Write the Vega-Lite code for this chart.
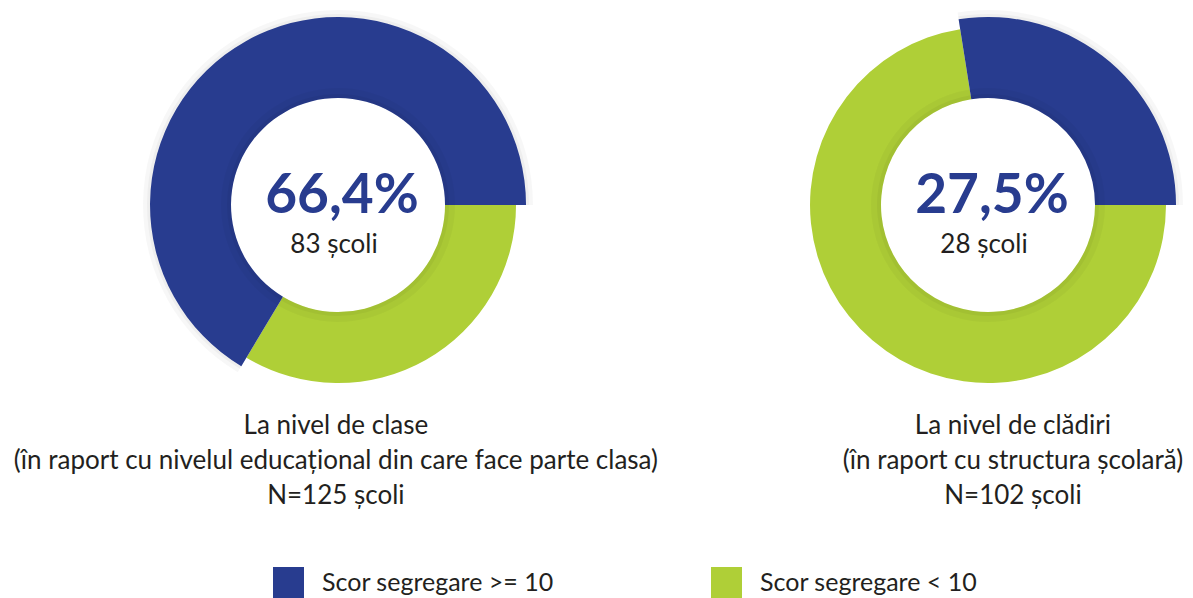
{
  "$schema": "https://vega.github.io/schema/vega-lite/v6.json",
  "width": 1193,
  "height": 410,
  "padding": 0,
  "background": "white",
  "datasets": {
    "shares": [
      {"panel": "clase", "cat": "Scor segregare >= 10", "pct": 66.4},
      {"panel": "clase", "cat": "Scor segregare < 10", "pct": 33.6},
      {"panel": "cladiri", "cat": "Scor segregare >= 10", "pct": 27.5},
      {"panel": "cladiri", "cat": "Scor segregare < 10", "pct": 72.5}
    ],
    "labels": [
      {"panel": "clase", "pct_label": "66,4%", "schools": "83 școli", "caption": ["La nivel de clase", "(în raport cu nivelul educațional din care face parte clasa)", "N=125 școli"]},
      {"panel": "cladiri", "pct_label": "27,5%", "schools": "28 școli", "caption": ["La nivel de clădiri", "(în raport cu structura școlară)", "N=102 școli"]}
    ]
  },
  "layer": [
    {
      "data": {"name": "shares"},
      "transform": [
        {"stack": "pct", "groupby": ["panel"], "sort": [{"field": "cat", "order": "ascending"}], "as": ["t0", "t1"]},
        {"filter": "datum.cat === 'Scor segregare >= 10'"}
      ],
      "mark": {"type": "arc", "innerRadius": 180, "outerRadius": 195, "fill": "#000000", "fillOpacity": 0.03},
      "encoding": {
        "x": {"field": "panel", "type": "nominal", "scale": {"type": "point", "domain": ["clase", "cladiri"], "padding": 0.4177, "align": 0.6225}, "axis": null},
        "theta": {"field": "t0", "type": "quantitative", "stack": null, "scale": {"domain": [0, 100], "range": [1.5707963, 7.8539816]}},
        "theta2": {"field": "t1"}
      }
    },
    {
      "data": {"name": "shares"},
      "transform": [
        {"stack": "pct", "groupby": ["panel"], "sort": [{"field": "cat", "order": "ascending"}], "as": ["t0", "t1"]},
        {"filter": "datum.cat === 'Scor segregare >= 10'"}
      ],
      "mark": {"type": "arc", "innerRadius": 180, "outerRadius": 191, "fill": "#000000", "fillOpacity": 0.035},
      "encoding": {
        "x": {"field": "panel", "type": "nominal", "scale": {"type": "point", "domain": ["clase", "cladiri"], "padding": 0.4177, "align": 0.6225}, "axis": null},
        "theta": {"field": "t0", "type": "quantitative", "stack": null, "scale": {"domain": [0, 100], "range": [1.5707963, 7.8539816]}},
        "theta2": {"field": "t1"}
      }
    },
    {
      "data": {"name": "shares"},
      "transform": [
        {"stack": "pct", "groupby": ["panel"], "sort": [{"field": "cat", "order": "ascending"}], "as": ["t0", "t1"]},
        {"filter": "datum.cat === 'Scor segregare < 10'"}
      ],
      "mark": {"type": "arc", "innerRadius": 107, "outerRadius": 178},
      "encoding": {
        "x": {"field": "panel", "type": "nominal", "scale": {"type": "point", "domain": ["clase", "cladiri"], "padding": 0.4177, "align": 0.6225}, "axis": null},
        "theta": {"field": "t0", "type": "quantitative", "stack": null, "scale": {"domain": [0, 100], "range": [1.5707963, 7.8539816]}},
        "theta2": {"field": "t1"},
        "color": {"field": "cat", "type": "nominal", "scale": {"domain": ["Scor segregare >= 10", "Scor segregare < 10"], "range": ["#283c8f", "#afcf37"]}, "legend": {"title": null}}
      }
    },
    {
      "data": {"name": "shares"},
      "transform": [
        {"stack": "pct", "groupby": ["panel"], "sort": [{"field": "cat", "order": "ascending"}], "as": ["t0", "t1"]},
        {"filter": "datum.cat === 'Scor segregare >= 10'"}
      ],
      "mark": {"type": "arc", "innerRadius": 107, "outerRadius": 188},
      "encoding": {
        "x": {"field": "panel", "type": "nominal", "scale": {"type": "point", "domain": ["clase", "cladiri"], "padding": 0.4177, "align": 0.6225}, "axis": null},
        "theta": {"field": "t0", "type": "quantitative", "stack": null, "scale": {"domain": [0, 100], "range": [1.5707963, 7.8539816]}},
        "theta2": {"field": "t1"},
        "color": {"field": "cat", "type": "nominal", "scale": {"domain": ["Scor segregare >= 10", "Scor segregare < 10"], "range": ["#283c8f", "#afcf37"]}, "legend": {"title": null}}
      }
    },
    {
      "data": {"name": "shares"},
      "transform": [
        {"stack": "pct", "groupby": ["panel"], "sort": [{"field": "cat", "order": "ascending"}], "as": ["t0", "t1"]}
      ],
      "mark": {"type": "arc", "innerRadius": 107, "outerRadius": 117, "fill": "#000000", "fillOpacity": 0.03},
      "encoding": {
        "x": {"field": "panel", "type": "nominal", "scale": {"type": "point", "domain": ["clase", "cladiri"], "padding": 0.4177, "align": 0.6225}, "axis": null},
        "theta": {"field": "t0", "type": "quantitative", "stack": null, "scale": {"domain": [0, 100], "range": [1.5707963, 7.8539816]}},
        "theta2": {"field": "t1"}
      }
    },
    {
      "data": {"name": "shares"},
      "transform": [
        {"stack": "pct", "groupby": ["panel"], "sort": [{"field": "cat", "order": "ascending"}], "as": ["t0", "t1"]}
      ],
      "mark": {"type": "arc", "innerRadius": 107, "outerRadius": 111, "fill": "#000000", "fillOpacity": 0.04},
      "encoding": {
        "x": {"field": "panel", "type": "nominal", "scale": {"type": "point", "domain": ["clase", "cladiri"], "padding": 0.4177, "align": 0.6225}, "axis": null},
        "theta": {"field": "t0", "type": "quantitative", "stack": null, "scale": {"domain": [0, 100], "range": [1.5707963, 7.8539816]}},
        "theta2": {"field": "t1"}
      }
    },
    {
      "data": {"name": "labels"},
      "mark": {"type": "text", "font": "Lato", "fontWeight": "bold", "fontSize": 55, "color": "#283c8f", "align": "center", "baseline": "alphabetic", "dy": 8, "dx": 4},
      "encoding": {
        "x": {"field": "panel", "type": "nominal", "scale": {"type": "point", "domain": ["clase", "cladiri"], "padding": 0.4177, "align": 0.6225}, "axis": null},
        "text": {"field": "pct_label"}
      }
    },
    {
      "data": {"name": "labels"},
      "mark": {"type": "text", "font": "Lato", "fontSize": 26, "color": "#231f20", "align": "center", "baseline": "alphabetic", "dy": 48, "dx": -4},
      "encoding": {
        "x": {"field": "panel", "type": "nominal", "scale": {"type": "point", "domain": ["clase", "cladiri"], "padding": 0.4177, "align": 0.6225}, "axis": null},
        "text": {"field": "schools"}
      }
    },
    {
      "data": {"name": "labels"},
      "mark": {"type": "text", "font": "Lato", "fontSize": 26, "color": "#231f20", "align": "center", "baseline": "alphabetic", "dy": 229, "lineHeight": 35},
      "encoding": {
        "x": {"field": "panel", "type": "nominal", "scale": {"type": "point", "domain": ["clase", "cladiri"], "padding": 0.381, "align": 0.651}, "axis": null},
        "text": {"field": "caption"}
      }
    }
  ],
  "resolve": {"scale": {"x": "independent"}},
  "config": {
    "view": {"stroke": null},
    "legend": {
      "orient": "none",
      "legendX": 273,
      "legendY": 567,
      "direction": "horizontal",
      "padding": 0,
      "symbolType": "square",
      "symbolSize": 961,
      "symbolStrokeWidth": 0,
      "symbolOpacity": 1,
      "labelFont": "Lato",
      "labelFontSize": 25,
      "labelColor": "#231f20",
      "labelOffset": 18,
      "labelLimit": 400,
      "columnPadding": 157
    }
  }
}
